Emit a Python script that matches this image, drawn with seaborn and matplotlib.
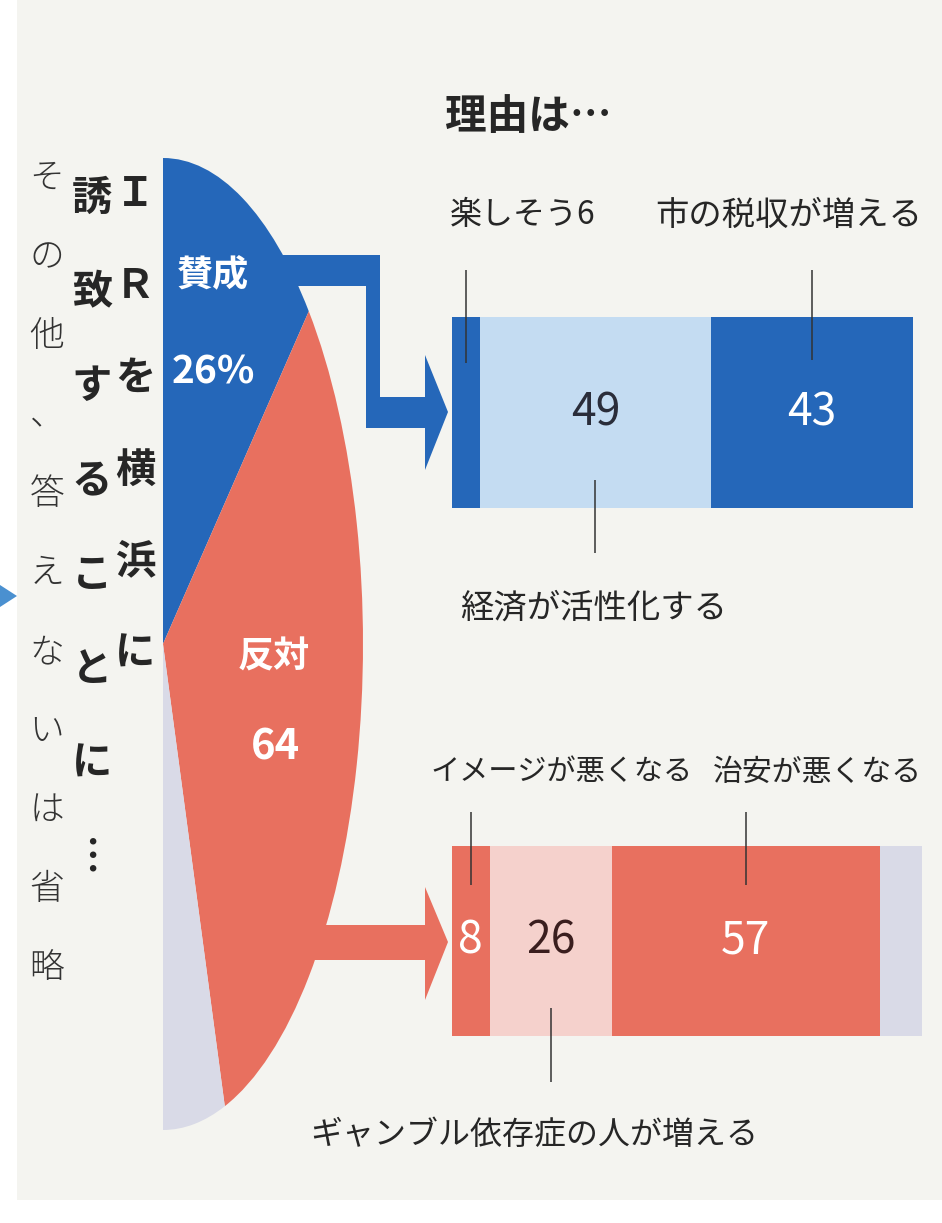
import numpy as np
import matplotlib
matplotlib.use("Agg")
import matplotlib.pyplot as plt
import matplotlib.transforms as mtransforms
from matplotlib.patches import Polygon, Rectangle
import seaborn as sns

# ---------------- data ----------------
pie_labels = ["賛成", "反対", "その他・答えない"]
pie_values = [26, 64, 10]
pie_texts = ["賛成", "26%", "反対", "64"]

pro_reasons = ["楽しそう", "経済が活性化する", "市の税収が増える"]
pro_values = [6, 49, 43]
con_reasons = ["イメージが悪くなる", "ギャンブル依存症の人が増える", "治安が悪くなる", "その他"]
con_values = [8, 26, 57, 9]

title = "理由は…"
question_col1 = ["Ｉ", "Ｒ", "を", "横", "浜", "に"]
question_col2 = ["誘", "致", "す", "る", "こ", "と", "に", "︙"]
note_col = ["そ", "の", "他", "、", "答", "え", "な", "い", "は", "省", "略"]

# ---------------- style ----------------
BLUE = "#2567b9"
LBLUE = "#c4dcf2"
RED = "#e8705f"
PINK = "#f5d1cc"
GRAY = "#d9dae7"
BG = "#f4f4f0"
INK = "#262626"

sns.set_theme(style="white")
plt.rcParams["font.family"] = ["Noto Sans CJK JP", "DejaVu Sans"]

W, H = 942, 1223
fig = plt.figure(figsize=(W / 100, H / 100), dpi=100)
fig.patch.set_facecolor("white")


def px_axes(x0, y0, x1, y1, **kw):
    return fig.add_axes([x0 / W, 1 - y1 / H, (x1 - x0) / W, (y1 - y0) / H], **kw)


# background paper
bg_ax = px_axes(0, 0, W, H)
bg_ax.set_xlim(0, W)
bg_ax.set_ylim(H, 0)
bg_ax.axis("off")
bg_ax.add_patch(Rectangle((17, 0), W - 17, 1200, facecolor=BG, edgecolor="none"))

# ---------------- half pie (elliptical) ----------------
ax_pie = px_axes(163, 158, 363, 1130)
ax_pie.pie(pie_values + [sum(pie_values)],
           colors=[BLUE, RED, GRAY, "none"],
           startangle=90, counterclock=False, radius=1, center=(0, 0),
           wedgeprops=dict(linewidth=0, edgecolor="none"))
ax_pie.set_aspect("auto")
ax_pie.set_xlim(0, 1)
ax_pie.set_ylim(-1, 1)
ax_pie.axis("off")

# ---------------- stacked bars ----------------
def stacked(ax, values, colors):
    cum = np.cumsum(values)
    for c, col in reversed(list(zip(cum, colors))):
        sns.barplot(x=[c], y=["r"], orient="h", color=col, saturation=1,
                    width=1, errorbar=None, edgecolor="none", ax=ax)
    ax.set_xlim(0, 100)
    ax.set_ylim(0.5, -0.5)
    ax.axis("off")
    return cum - np.array(values) / 2


ax_top = px_axes(452, 317, 922, 508)
mid_top = stacked(ax_top, pro_values, [BLUE, LBLUE, BLUE])
ax_bot = px_axes(452, 846, 922, 1036)
mid_bot = stacked(ax_bot, con_values, [RED, PINK, RED, GRAY])

NUM = dict(fontsize=32, ha="center", va="center")
ax_top.text(mid_top[1], 0, str(pro_values[1]), color="#2a2d3a", **NUM)
ax_top.text(mid_top[2], 0, str(pro_values[2]), color="white", **NUM)
ax_bot.text(mid_bot[0], 0, str(con_values[0]), color="white", **NUM)
ax_bot.text(mid_bot[1], 0, str(con_values[1]), color="#3a1e1e", **NUM)
ax_bot.text(mid_bot[2], 0, str(con_values[2]), color="white", **NUM)

# ---------------- overlay ----------------
ov = px_axes(0, 0, W, H)
ov.set_xlim(0, W)
ov.set_ylim(H, 0)
ov.axis("off")
ov.patch.set_alpha(0)
ov.set_zorder(5)

# arrows
blue_arrow = [(250, 255), (380, 255), (380, 397), (425, 397), (425, 355),
              (448, 412), (425, 470), (425, 428), (366, 428), (366, 286), (250, 286)]
ov.add_patch(Polygon(blue_arrow, closed=True, facecolor=BLUE, edgecolor="none"))
red_arrow = [(290, 925), (425, 925), (425, 887), (448, 942), (425, 1000),
             (425, 960), (290, 960)]
ov.add_patch(Polygon(red_arrow, closed=True, facecolor=RED, edgecolor="none"))

# small marker on left edge
ov.add_patch(Polygon([(0, 585), (17, 596), (0, 607)], closed=True,
                     facecolor="#4a90d0", edgecolor="none"))

# pie labels
ov.text(213, 275, pie_texts[0], color="white", fontsize=26, fontweight="bold",
        ha="center", va="center")
ov.text(213, 372, pie_texts[1], color="white", fontsize=28, fontweight="bold",
        ha="center", va="center")
ov.text(274, 657, pie_texts[2], color="white", fontsize=26, fontweight="bold",
        ha="center", va="center")
ov.text(275, 748, pie_texts[3], color="white", fontsize=30, fontweight="bold",
        ha="center", va="center")

# vertical texts
for i, ch in enumerate(question_col1):
    ov.text(135, 194 + i * 92, ch, fontsize=29, fontweight="bold", color=INK,
            ha="center", va="center")
for i, ch in enumerate(question_col2):
    ov.text(92, 198 + i * 94.3, ch, fontsize=29, fontweight="bold", color=INK,
            ha="center", va="center")
for i, ch in enumerate(note_col):
    ov.text(47, 178 + i * 79, ch, fontsize=25, fontweight="light", color="#333333",
            ha="center", va="center")

# title and labels
ov.text(445, 117, title, fontsize=30, fontweight="bold", color=INK,
        ha="left", va="center")
ov.text(450, 215, pro_reasons[0] + str(pro_values[0]), fontsize=23, color=INK,
        ha="left", va="center")
ov.text(922, 215, pro_reasons[2], fontsize=24, color=INK, ha="right", va="center")
ov.text(460, 608, pro_reasons[1], fontsize=24, color=INK, ha="left", va="center")
ov.text(430, 772, con_reasons[0], fontsize=21, color=INK, ha="left", va="center")
ov.text(922, 772, con_reasons[2], fontsize=21.5, color=INK, ha="right", va="center")
ov.text(310, 1135, con_reasons[1], fontsize=23, color=INK, ha="left", va="center")

# leader lines (x from bar data, y in pixels)
tr_top = mtransforms.blended_transform_factory(ax_top.transData, ov.transData)
tr_bot = mtransforms.blended_transform_factory(ax_bot.transData, ov.transData)
LK = dict(color="#333333", lw=1.1, solid_capstyle="butt")
ov.plot([mid_top[0]] * 2, [270, 363], transform=tr_top, **LK)
ov.plot([mid_top[2]] * 2, [270, 360], transform=tr_top, **LK)
ov.plot([mid_top[1]] * 2, [480, 553], transform=tr_top, **LK)
ov.plot([mid_bot[0]] * 2, [812, 885], transform=tr_bot, **LK)
ov.plot([mid_bot[2]] * 2, [812, 885], transform=tr_bot, **LK)
ov.plot([mid_bot[1]] * 2, [1008, 1082], transform=tr_bot, **LK)

fig.savefig("out.png", dpi=100, facecolor=fig.get_facecolor())
